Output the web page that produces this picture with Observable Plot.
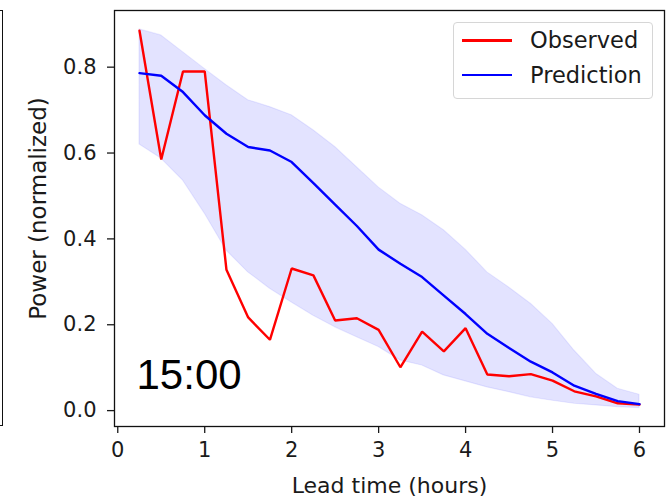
<!DOCTYPE html>
<html><head><meta charset="utf-8">
<script src="https://cdn.jsdelivr.net/npm/d3@7"></script>
<script src="https://cdn.jsdelivr.net/npm/@observablehq/plot@0.6"></script>
<style>
html,body{margin:0;padding:0;background:#fff;}
#wrap{position:relative;width:670px;height:498px;overflow:hidden;font-family:"DejaVu Sans",sans-serif;}
#wrap svg{position:absolute;left:0;top:0;}
.neighbor{position:absolute;left:-10px;top:10px;width:13px;height:416px;box-sizing:border-box;border:1.3px solid #111;border-left:none;}
.legend{position:absolute;left:453px;top:22px;width:200px;height:77px;box-sizing:border-box;border:1px solid #d6d6d6;border-radius:4px;background:rgba(255,255,255,0.85);}
.legend .sw{position:absolute;left:8px;width:50px;height:2.5px;}
.legend .lb{position:absolute;left:76px;font-size:22.5px;line-height:1;color:#1a1a1a;white-space:nowrap;}
</style></head><body><div id="wrap"></div>
<script>
const leadTime = [0.25,0.5,0.75,1.0,1.25,1.5,1.75,2.0,2.25,2.5,2.75,3.0,3.25,3.5,3.75,4.0,4.25,4.5,4.75,5.0,5.25,5.5,5.75,6.0];
const observed = [0.885,0.585,0.79,0.79,0.328,0.217,0.165,0.331,0.315,0.21,0.215,0.188,0.101,0.184,0.138,0.192,0.084,0.08,0.085,0.07,0.045,0.033,0.017,0.014];
const prediction = [0.786,0.78,0.742,0.688,0.645,0.614,0.606,0.579,0.53,0.48,0.43,0.375,0.342,0.311,0.268,0.225,0.179,0.146,0.114,0.089,0.058,0.039,0.022,0.015];
const bandHigh = [0.888,0.874,0.835,0.796,0.758,0.723,0.707,0.688,0.653,0.614,0.567,0.52,0.482,0.455,0.42,0.375,0.322,0.287,0.249,0.202,0.14,0.086,0.051,0.037];
const bandLow = [0.62,0.587,0.536,0.459,0.373,0.322,0.284,0.252,0.221,0.194,0.171,0.148,0.117,0.105,0.082,0.068,0.054,0.043,0.031,0.023,0.016,0.012,0.008,0.006];
const xTicks = [0,1,2,3,4,5,6];
const yTicks = [0.0,0.2,0.4,0.6,0.8];
const seriesNames = ["Observed","Prediction"];
const seriesColors = ["#ff0000","#0000ff"];
const annotation = "15:00";
const xLabel = "Lead time (hours)";
const yLabel = "Power (normalized)";

const rows = leadTime.map((t,i)=>({t, obs:observed[i], pred:prediction[i], lo:bandLow[i], hi:bandHigh[i]}));

const chart = Plot.plot({
  width: 670, height: 498,
  marginLeft: 114, marginRight: 6, marginTop: 10, marginBottom: 72,
  style: {fontFamily: "DejaVu Sans, sans-serif", background: "transparent", color: "#1a1a1a"},
  x: {domain: [-0.0375, 6.2875]},
  y: {domain: [-0.037, 0.932]},
  marks: [
    Plot.areaY(rows, {x: "t", y1: "lo", y2: "hi", fill: seriesColors[1], fillOpacity: 0.11, stroke: seriesColors[1], strokeOpacity: 0.08, strokeWidth: 1.2}),
    Plot.lineY(rows, {x: "t", y: "obs", stroke: seriesColors[0], strokeWidth: 2.4, strokeLinejoin: "miter"}),
    Plot.lineY(rows, {x: "t", y: "pred", stroke: seriesColors[1], strokeWidth: 2.4}),
    Plot.axisX({ticks: xTicks, tickFormat: d3.format("d"), tickSize: 7, tickPadding: 9, fontSize: 21, label: null, strokeWidth: 1.3}),
    Plot.axisY({ticks: yTicks, tickFormat: d3.format(".1f"), tickSize: 7, tickPadding: 11, fontSize: 21, label: null, strokeWidth: 1.3}),
    Plot.frame({stroke: "#111", strokeWidth: 1.3}),
    Plot.text([annotation], {frameAnchor: "bottom-left", dx: 22, dy: -38, text: d => d, fontSize: 42, fontFamily: "Liberation Sans, Arial, sans-serif", textAnchor: "start", lineAnchor: "bottom", fill: "#000"}),
    Plot.text([xLabel], {frameAnchor: "bottom", dy: 66, text: d => d, fontSize: 22, lineAnchor: "bottom", fill: "#1a1a1a"}),
    Plot.text([yLabel], {frameAnchor: "left", dx: -69, dy: -10, text: d => d, fontSize: 23, rotate: -90, lineAnchor: "bottom", textAnchor: "middle", fill: "#1a1a1a"})
  ]
});
const wrap = document.getElementById("wrap");
wrap.appendChild(chart);
const nb = document.createElement("div"); nb.className = "neighbor"; wrap.appendChild(nb);
const lg = document.createElement("div"); lg.className = "legend";
seriesNames.forEach((name, i) => {
  const sw = document.createElement("div"); sw.className = "sw";
  sw.style.top = (16 + i*34.5) + "px"; sw.style.background = seriesColors[i];
  const lb = document.createElement("div"); lb.className = "lb";
  lb.style.top = (6 + i*35) + "px"; lb.textContent = name;
  lg.appendChild(sw); lg.appendChild(lb);
});
wrap.appendChild(lg);
</script></body></html>
